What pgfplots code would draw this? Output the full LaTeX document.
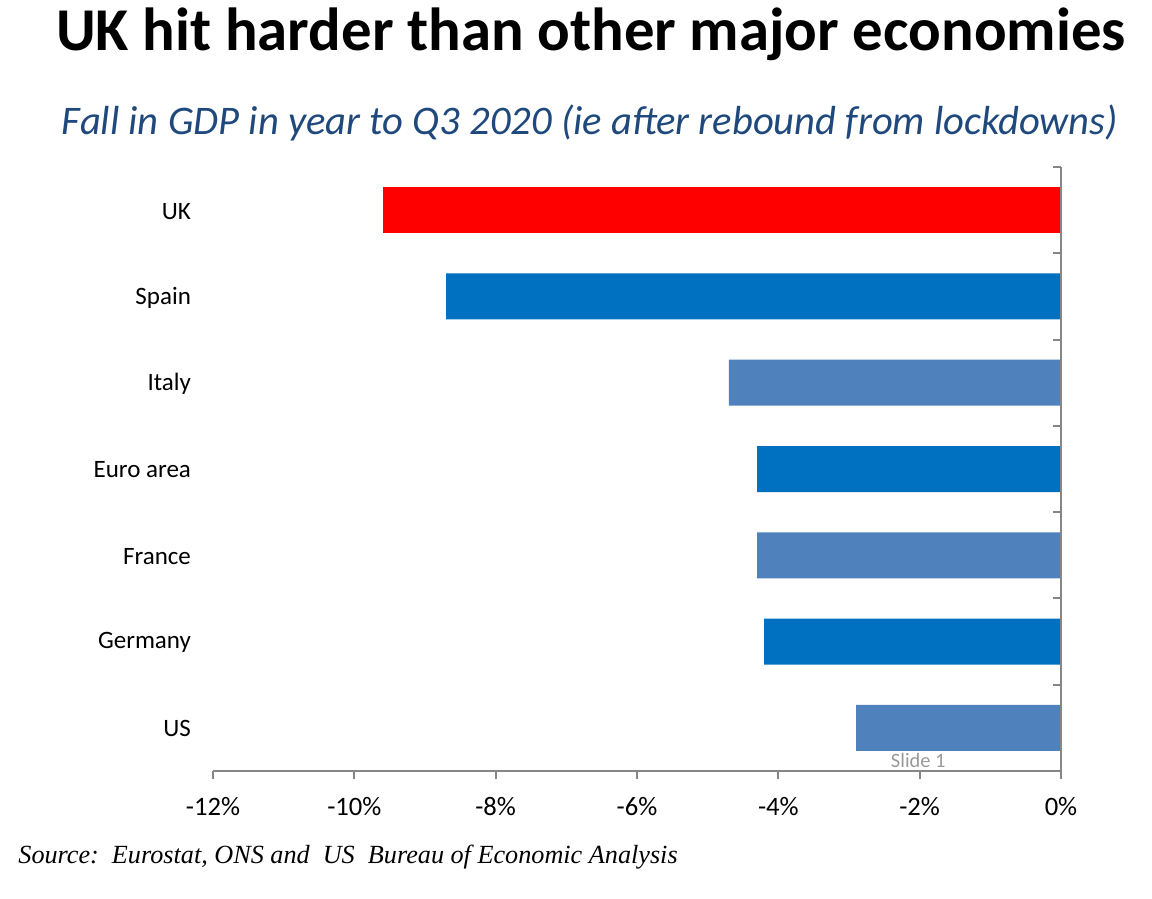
\documentclass[border=0pt]{standalone}
\usepackage{pgfplots}
\pgfplotsset{compat=1.18}
\usepackage{fontspec}
\setmainfont{Carlito}
\newfontfamily\srcfont{Liberation Serif}
\definecolor{ukred}{HTML}{FF0000}
\definecolor{darkb}{HTML}{0070C0}
\definecolor{lightb}{HTML}{4F81BD}
\definecolor{axgray}{HTML}{868686}
\definecolor{subblue}{HTML}{1F497D}
\begin{document}
\begin{tikzpicture}
\path[use as bounding box] (0pt,0pt) rectangle (576pt,-449.5pt);
\node[anchor=base, font=\fontsize{30.4}{34}\selectfont\bfseries] at (295.5pt,-25.5pt) {UK hit harder than other major economies};
\node[anchor=base, font=\fontsize{20.3}{24}\selectfont\itshape, text=subblue] at (295pt,-67pt) {Fall in GDP in year to Q3 2020 (ie after rebound from lockdowns)};
\node[anchor=base west, inner sep=0pt, font=\fontsize{13.1}{16}\srcfont\itshape] at (9pt,-431.5pt) {Source:\ \ Eurostat, ONS and\ \ US\ \ Bureau of Economic Analysis};
\begin{axis}[
  at={(106.5pt,-385.5pt)}, anchor=south west,
  scale only axis, width=424pt, height=302pt,
  xmin=-12, xmax=0, ymin=-0.5, ymax=6.5,
  y dir=reverse,
  xbar, bar width=23pt, bar shift=0pt,
  axis x line*=bottom, axis y line*=left,
  x axis line style={draw=axgray, line width=1pt},
  y axis line style={draw=none},
  xtick={-12,-10,-8,-6,-4,-2,0},
  xticklabels={-12\%,-10\%,-8\%,-6\%,-4\%,-2\%,0\%},
  tick align=outside, major tick length=4pt,
  xtick style={draw=axgray, line width=1pt},
  xticklabel style={font=\fontsize{13.3}{16}\selectfont, yshift=-5.5pt},
  ytick={0,1,2,3,4,5,6},
  yticklabels={UK,Spain,Italy,Euro area,France,Germany,US},
  yticklabel style={font=\fontsize{12.5}{15}\selectfont, anchor=east, xshift=-3.5pt, yshift=-0.5pt},
  ytick style={draw=none},
  clip=false,
]
\addplot[fill=ukred, draw=none] coordinates {(-9.6,0)};
\addplot[fill=darkb, draw=none] coordinates {(-8.7,1) (-4.3,3) (-4.2,5)};
\addplot[fill=lightb, draw=none] coordinates {(-4.7,2) (-4.3,4) (-2.9,6)};
\draw[axgray, line width=1pt] (axis cs:0,-0.5) -- (axis cs:0,6.5);
\pgfplotsinvokeforeach{-0.5,0.5,1.5,2.5,3.5,4.5,5.5}{
  \draw[axgray, line width=1pt] (axis cs:0,#1) -- ++(-4pt,0pt);
}
\node[font=\fontsize{10.2}{12}\selectfont, text=gray!80, anchor=base] at (axis cs:-2.02,6.46) {Slide 1};
\end{axis}
\end{tikzpicture}
\end{document}
